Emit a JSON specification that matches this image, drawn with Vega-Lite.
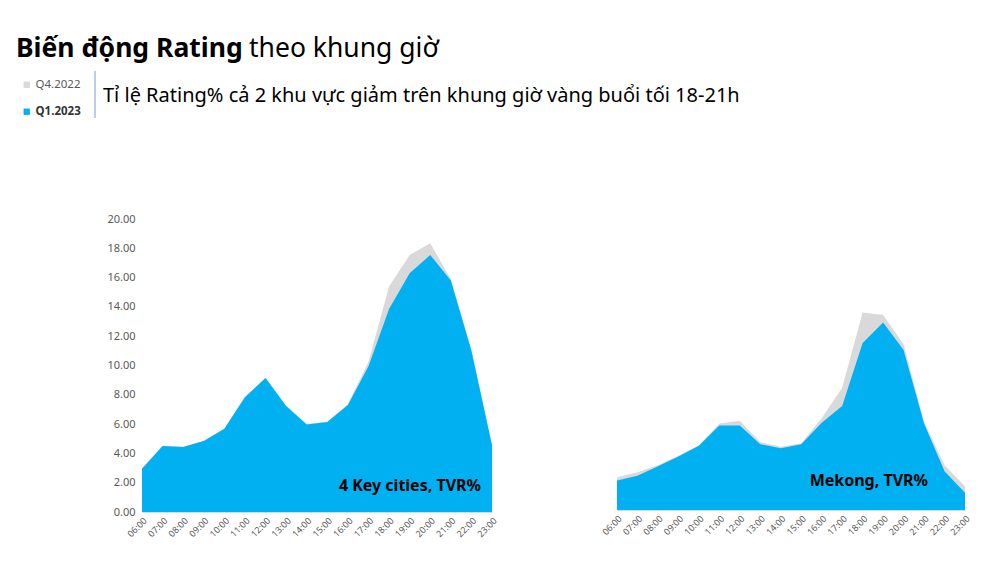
{
  "$schema": "https://vega.github.io/schema/vega-lite/v6.json",
  "background": "white",
  "padding": {"left": 16, "top": 36, "right": 5, "bottom": 5},
  "bounds": "flush",
  "spacing": 125,
  "config": {"view": {"stroke": null}, "font": "Noto Sans"},
  "datasets": {
    "tv": [
      {"region": "4KC", "hour": "06:00", "q": "Q4.2022", "v": 2.97},
      {"region": "4KC", "hour": "07:00", "q": "Q4.2022", "v": 4.52},
      {"region": "4KC", "hour": "08:00", "q": "Q4.2022", "v": 4.45},
      {"region": "4KC", "hour": "09:00", "q": "Q4.2022", "v": 4.86},
      {"region": "4KC", "hour": "10:00", "q": "Q4.2022", "v": 5.70},
      {"region": "4KC", "hour": "11:00", "q": "Q4.2022", "v": 7.86},
      {"region": "4KC", "hour": "12:00", "q": "Q4.2022", "v": 9.16},
      {"region": "4KC", "hour": "13:00", "q": "Q4.2022", "v": 7.25},
      {"region": "4KC", "hour": "14:00", "q": "Q4.2022", "v": 6.00},
      {"region": "4KC", "hour": "15:00", "q": "Q4.2022", "v": 6.16},
      {"region": "4KC", "hour": "16:00", "q": "Q4.2022", "v": 7.35},
      {"region": "4KC", "hour": "17:00", "q": "Q4.2022", "v": 10.25},
      {"region": "4KC", "hour": "18:00", "q": "Q4.2022", "v": 15.40},
      {"region": "4KC", "hour": "19:00", "q": "Q4.2022", "v": 17.55},
      {"region": "4KC", "hour": "20:00", "q": "Q4.2022", "v": 18.34},
      {"region": "4KC", "hour": "21:00", "q": "Q4.2022", "v": 15.90},
      {"region": "4KC", "hour": "22:00", "q": "Q4.2022", "v": 11.10},
      {"region": "4KC", "hour": "23:00", "q": "Q4.2022", "v": 4.60},
      {"region": "4KC", "hour": "06:00", "q": "Q1.2023", "v": 2.95},
      {"region": "4KC", "hour": "07:00", "q": "Q1.2023", "v": 4.50},
      {"region": "4KC", "hour": "08:00", "q": "Q1.2023", "v": 4.43},
      {"region": "4KC", "hour": "09:00", "q": "Q1.2023", "v": 4.84},
      {"region": "4KC", "hour": "10:00", "q": "Q1.2023", "v": 5.68},
      {"region": "4KC", "hour": "11:00", "q": "Q1.2023", "v": 7.84},
      {"region": "4KC", "hour": "12:00", "q": "Q1.2023", "v": 9.14},
      {"region": "4KC", "hour": "13:00", "q": "Q1.2023", "v": 7.23},
      {"region": "4KC", "hour": "14:00", "q": "Q1.2023", "v": 5.98},
      {"region": "4KC", "hour": "15:00", "q": "Q1.2023", "v": 6.14},
      {"region": "4KC", "hour": "16:00", "q": "Q1.2023", "v": 7.30},
      {"region": "4KC", "hour": "17:00", "q": "Q1.2023", "v": 9.95},
      {"region": "4KC", "hour": "18:00", "q": "Q1.2023", "v": 13.86},
      {"region": "4KC", "hour": "19:00", "q": "Q1.2023", "v": 16.30},
      {"region": "4KC", "hour": "20:00", "q": "Q1.2023", "v": 17.55},
      {"region": "4KC", "hour": "21:00", "q": "Q1.2023", "v": 15.80},
      {"region": "4KC", "hour": "22:00", "q": "Q1.2023", "v": 11.00},
      {"region": "4KC", "hour": "23:00", "q": "Q1.2023", "v": 4.55},
      {"region": "MK", "hour": "06:00", "q": "Q4.2022", "v": 2.25},
      {"region": "MK", "hour": "07:00", "q": "Q4.2022", "v": 2.59},
      {"region": "MK", "hour": "08:00", "q": "Q4.2022", "v": 3.07},
      {"region": "MK", "hour": "09:00", "q": "Q4.2022", "v": 3.73},
      {"region": "MK", "hour": "10:00", "q": "Q4.2022", "v": 4.45},
      {"region": "MK", "hour": "11:00", "q": "Q4.2022", "v": 5.95},
      {"region": "MK", "hour": "12:00", "q": "Q4.2022", "v": 6.14},
      {"region": "MK", "hour": "13:00", "q": "Q4.2022", "v": 4.66},
      {"region": "MK", "hour": "14:00", "q": "Q4.2022", "v": 4.34},
      {"region": "MK", "hour": "15:00", "q": "Q4.2022", "v": 4.59},
      {"region": "MK", "hour": "16:00", "q": "Q4.2022", "v": 6.30},
      {"region": "MK", "hour": "17:00", "q": "Q4.2022", "v": 8.41},
      {"region": "MK", "hour": "18:00", "q": "Q4.2022", "v": 13.57},
      {"region": "MK", "hour": "19:00", "q": "Q4.2022", "v": 13.40},
      {"region": "MK", "hour": "20:00", "q": "Q4.2022", "v": 11.40},
      {"region": "MK", "hour": "21:00", "q": "Q4.2022", "v": 6.07},
      {"region": "MK", "hour": "22:00", "q": "Q4.2022", "v": 3.07},
      {"region": "MK", "hour": "23:00", "q": "Q4.2022", "v": 1.64},
      {"region": "MK", "hour": "06:00", "q": "Q1.2023", "v": 2.02},
      {"region": "MK", "hour": "07:00", "q": "Q1.2023", "v": 2.36},
      {"region": "MK", "hour": "08:00", "q": "Q1.2023", "v": 3.00},
      {"region": "MK", "hour": "09:00", "q": "Q1.2023", "v": 3.68},
      {"region": "MK", "hour": "10:00", "q": "Q1.2023", "v": 4.41},
      {"region": "MK", "hour": "11:00", "q": "Q1.2023", "v": 5.80},
      {"region": "MK", "hour": "12:00", "q": "Q1.2023", "v": 5.80},
      {"region": "MK", "hour": "13:00", "q": "Q1.2023", "v": 4.52},
      {"region": "MK", "hour": "14:00", "q": "Q1.2023", "v": 4.25},
      {"region": "MK", "hour": "15:00", "q": "Q1.2023", "v": 4.52},
      {"region": "MK", "hour": "16:00", "q": "Q1.2023", "v": 6.00},
      {"region": "MK", "hour": "17:00", "q": "Q1.2023", "v": 7.14},
      {"region": "MK", "hour": "18:00", "q": "Q1.2023", "v": 11.48},
      {"region": "MK", "hour": "19:00", "q": "Q1.2023", "v": 12.89},
      {"region": "MK", "hour": "20:00", "q": "Q1.2023", "v": 11.00},
      {"region": "MK", "hour": "21:00", "q": "Q1.2023", "v": 5.95},
      {"region": "MK", "hour": "22:00", "q": "Q1.2023", "v": 2.66},
      {"region": "MK", "hour": "23:00", "q": "Q1.2023", "v": 1.18}
    ]
  },
  "resolve": {"scale": {"color": "independent"}, "legend": {"color": "independent"}},
  "hconcat": [
    {
      "width": 350,
      "height": 293,
      "layer": [
        {
          "data": {"name": "tv"},
          "transform": [{"filter": "datum.region == '4KC' && datum.q == 'Q4.2022'"}],
          "mark": {"type": "area", "stack": null},
          "encoding": {
            "x": {"field": "hour", "type": "ordinal", "scale": {"type": "point", "padding": 0}, "title": null,
              "axis": {"labelAngle": -45, "labelFontSize": 9, "labelColor": "#595959", "ticks": false, "labelPadding": 4, "domainColor": "#D9D9D9", "labelOverlap": false}},
            "y": {"field": "v", "type": "quantitative", "stack": null, "scale": {"domain": [0, 20]}, "title": null,
              "axis": {"values": [0, 2, 4, 6, 8, 10, 12, 14, 16, 18, 20], "tickCount": 12, "format": ".2f", "grid": false, "domain": false, "ticks": false, "labelPadding": 7, "labelFontSize": 11, "labelColor": "#595959", "labelOverlap": false}},
            "color": {"field": "q", "type": "nominal", "scale": {"domain": ["Q4.2022", "Q1.2023"], "range": ["#D9D9D9", "#00B0F0"]},
              "legend": {"orient": "none", "legendX": -121, "legendY": -140, "title": null, "symbolType": "square", "symbolSize": 40, "symbolStrokeWidth": 0, "labelFontSize": 11.5, "labelColor": {"expr": "datum.label == 'Q1.2023' ? '#333333' : '#595959'"}, "labelFontWeight": {"expr": "datum.label == 'Q1.2023' ? 'bold' : 'normal'"}, "rowPadding": 14, "labelOffset": 3, "padding": 0}}
          }
        },
        {
          "data": {"name": "tv"},
          "transform": [{"filter": "datum.region == '4KC' && datum.q == 'Q1.2023'"}],
          "mark": {"type": "area", "stack": null},
          "encoding": {
            "x": {"field": "hour", "type": "ordinal"},
            "y": {"field": "v", "type": "quantitative", "stack": null},
            "color": {"field": "q", "type": "nominal"}
          }
        },
        {
          "data": {"values": [{"hour": "23:00", "v": 1.8, "label": "4 Key cities, TVR%"}]},
          "mark": {"type": "text", "align": "right", "baseline": "middle", "fontSize": 16, "fontWeight": "bold", "color": "#000000", "dx": -11},
          "encoding": {
            "x": {"field": "hour", "type": "ordinal"},
            "y": {"field": "v", "type": "quantitative"},
            "text": {"field": "label"}
          }
        },
        {
          "data": {"values": [{"t": "Biến động Rating"}]},
          "mark": {"type": "text", "align": "left", "baseline": "top", "fontSize": 26.5, "fontWeight": "bold", "color": "#000000"},
          "encoding": {"x": {"value": -126}, "y": {"value": -183}, "text": {"field": "t"}}
        },
        {
          "data": {"values": [{"t": "theo khung giờ"}]},
          "mark": {"type": "text", "align": "left", "baseline": "top", "fontSize": 26.5, "color": "#000000"},
          "encoding": {"x": {"value": 107}, "y": {"value": -183}, "text": {"field": "t"}}
        },
        {
          "data": {"values": [{"t": "Tỉ lệ Rating% cả 2 khu vực giảm trên khung giờ vàng buổi tối 18-21h"}]},
          "mark": {"type": "text", "align": "left", "baseline": "top", "fontSize": 20, "color": "#000000"},
          "encoding": {"x": {"value": -39}, "y": {"value": -133}, "text": {"field": "t"}}
        },
        {
          "data": {"values": [{}]},
          "mark": {"type": "rule", "color": "#8FAADC", "strokeWidth": 1.2},
          "encoding": {"x": {"value": -47}, "y": {"value": -148}, "y2": {"value": -101}}
        }
      ]
    },
    {
      "width": 348,
      "height": 291,
      "layer": [
        {
          "data": {"name": "tv"},
          "transform": [{"filter": "datum.region == 'MK' && datum.q == 'Q4.2022'"}],
          "mark": {"type": "area", "stack": null},
          "encoding": {
            "x": {"field": "hour", "type": "ordinal", "scale": {"type": "point", "padding": 0}, "title": null,
              "axis": {"labelAngle": -45, "labelFontSize": 9, "labelColor": "#595959", "ticks": false, "labelPadding": 4, "domainColor": "#D9D9D9", "labelOverlap": false}},
            "y": {"field": "v", "type": "quantitative", "stack": null, "scale": {"domain": [0, 20]}, "axis": null},
            "color": {"field": "q", "type": "nominal", "scale": {"domain": ["Q4.2022", "Q1.2023"], "range": ["#D9D9D9", "#00B0F0"]}, "legend": null}
          }
        },
        {
          "data": {"name": "tv"},
          "transform": [{"filter": "datum.region == 'MK' && datum.q == 'Q1.2023'"}],
          "mark": {"type": "area", "stack": null},
          "encoding": {
            "x": {"field": "hour", "type": "ordinal"},
            "y": {"field": "v", "type": "quantitative", "stack": null},
            "color": {"field": "q", "type": "nominal", "legend": null}
          }
        },
        {
          "data": {"values": [{"hour": "23:00", "v": 2.0, "label": "Mekong, TVR%"}]},
          "mark": {"type": "text", "align": "right", "baseline": "middle", "fontSize": 16, "fontWeight": "bold", "color": "#000000", "dx": -37},
          "encoding": {
            "x": {"field": "hour", "type": "ordinal"},
            "y": {"field": "v", "type": "quantitative"},
            "text": {"field": "label"}
          }
        }
      ]
    }
  ]
}
